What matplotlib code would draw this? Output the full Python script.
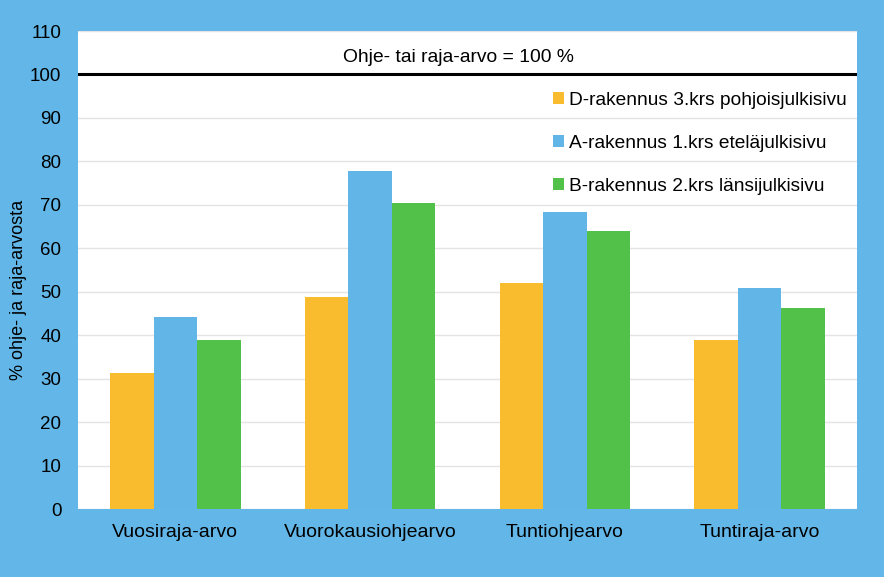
import numpy as np
import matplotlib.pyplot as plt

# data
categories = ["Vuosiraja-arvo", "Vuorokausiohjearvo", "Tuntiohjearvo", "Tuntiraja-arvo"]
series_names = ["D-rakennus 3.krs pohjoisjulkisivu",
                "A-rakennus 1.krs eteläjulkisivu",
                "B-rakennus 2.krs länsijulkisivu"]
d_values = [31.2, 48.7, 52.0, 38.8]
a_values = [44.2, 77.8, 68.3, 50.8]
b_values = [38.8, 70.5, 64.0, 46.2]
limit_value = 100
yticks = [0, 10, 20, 30, 40, 50, 60, 70, 80, 90, 100, 110]

bg = "#62b7e8"
colors = ["#f9bc2e", "#62b6e7", "#52c14a"]

plt.rcParams['font.family'] = ['Liberation Sans', 'DejaVu Sans']

fig = plt.figure(figsize=(8.84, 5.77), dpi=100, facecolor=bg)
ax = fig.add_axes([78/884, 1 - 509/577, 779/884, 478/577])
ax.set_facecolor("white")

x = np.arange(len(categories))
w = 0.223
for i, vals in enumerate([d_values, a_values, b_values]):
    ax.bar(x + (i - 1) * w, vals, width=w, color=colors[i], label=series_names[i], zorder=3)

ax.set_xlim(-0.5, len(categories) - 0.5)
ax.set_ylim(0, 110)
ax.set_yticks(yticks)
ax.set_yticklabels([str(t) for t in yticks], fontsize=13.5)
ax.set_xticks(x)
ax.set_xticklabels(categories, fontsize=14)
ax.tick_params(length=0)
ax.tick_params(axis='y', pad=12)
ax.tick_params(axis='x', pad=11)
for s in ax.spines.values():
    s.set_visible(False)
ax.yaxis.grid(True, color="#e4e4e4", linewidth=1, zorder=0)
ax.set_axisbelow(True)

ax.axhline(limit_value, color="black", linewidth=2.2, zorder=4)
ax.text(1.456, 104.0, "Ohje- tai raja-arvo = 100 %", fontsize=13.9, ha="center", va="center")

ax.set_ylabel("% ohje- ja raja-arvosta", fontsize=13)
ax.yaxis.set_label_coords(-0.066, 0.458)

leg = ax.legend(loc="upper right", bbox_to_anchor=(0.987, 0.873), frameon=False,
                fontsize=13.8, handlelength=0.57, handleheight=0.57, handletextpad=0.25,
                labelspacing=1.36, borderaxespad=0, borderpad=0)

fig.savefig("out.png", dpi=100, facecolor=bg)
